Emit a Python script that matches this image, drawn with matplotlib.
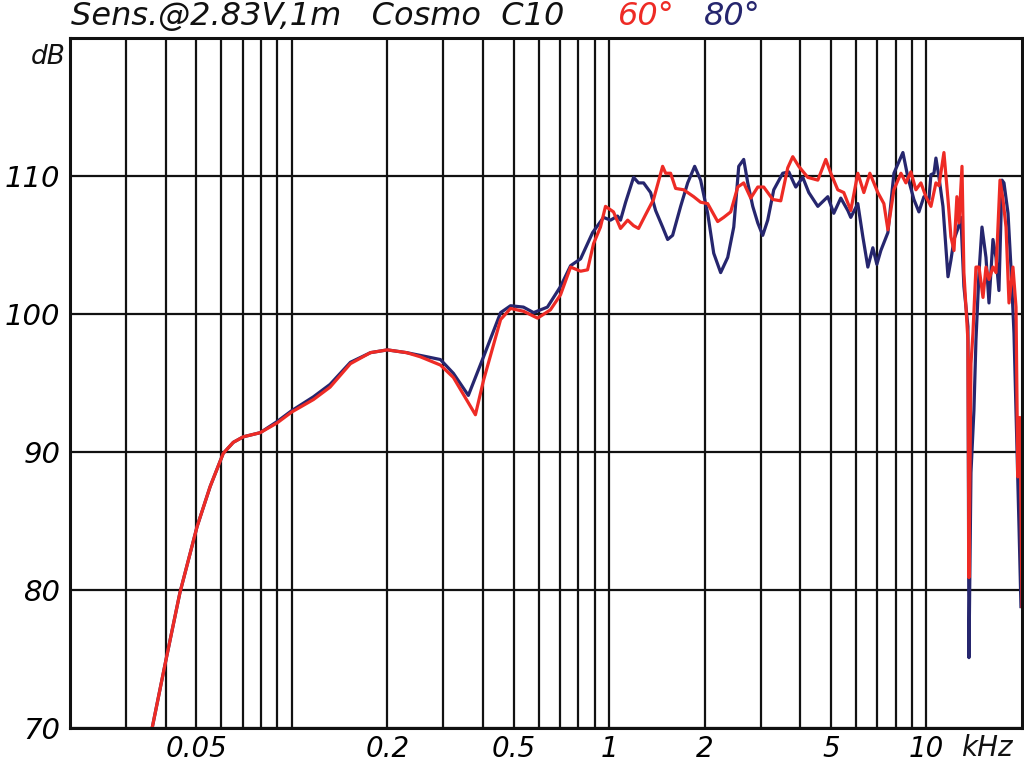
import matplotlib
matplotlib.use("Agg")
import matplotlib.pyplot as plt

# 60 degree curve (kHz, dB)
freq_60 = [0.0363, 0.0401, 0.0444, 0.0503, 0.0553, 0.0608, 0.0654, 0.0703, 0.0795, 0.0898,
           0.100, 0.117, 0.132, 0.153, 0.177, 0.200, 0.230, 0.254, 0.294, 0.323,
           0.379, 0.402, 0.455, 0.489, 0.537, 0.595, 0.653, 0.703, 0.756, 0.813,
           0.855, 0.893, 0.939, 0.974, 1.032, 1.086, 1.144, 1.194, 1.238, 1.303,
           1.380, 1.474, 1.507, 1.562, 1.620, 1.718, 1.847, 1.942, 2.044, 2.198,
           2.296, 2.416, 2.542, 2.655, 2.794, 2.940, 3.070, 3.278, 3.474, 3.655,
           3.790, 3.958, 4.227, 4.546, 4.817, 4.994, 5.254, 5.488, 5.774, 6.076,
           6.348, 6.631, 7.027, 7.341, 7.559, 7.896, 8.308, 8.613, 8.931, 9.262,
           9.604, 9.960, 10.33, 10.71, 10.95, 11.35, 11.69, 11.94, 12.21, 12.47,
           12.66, 12.94, 13.12, 13.51, 13.61, 13.81, 14.01, 14.32, 14.64, 15.07,
           15.40, 15.74, 16.20, 16.56, 17.05, 17.42, 17.81, 18.20, 18.73, 19.15,
           19.40, 19.70, 20.0]
db_60 = [70.0, 74.9, 79.8, 84.6, 87.5, 89.9, 90.7, 91.1, 91.4, 92.1,
         92.9, 93.8, 94.7, 96.4, 97.2, 97.4, 97.2, 96.9, 96.3, 95.4,
         92.7, 95.2, 99.6, 100.4, 100.2, 99.7, 100.3, 101.4, 103.4, 103.1,
         103.2, 105.1, 106.3, 107.8, 107.4, 106.2, 106.8, 106.4, 106.2, 107.2,
         108.3, 110.7, 110.2, 110.2, 109.1, 109.0, 108.5, 108.1, 108.0, 106.7,
         107.0, 107.4, 109.2, 109.5, 108.4, 109.2, 109.2, 108.3, 108.2, 110.6,
         111.4, 110.7, 109.9, 109.7, 111.2, 110.2, 109.0, 108.8, 107.5, 110.2,
         108.8, 110.2, 108.8, 108.0, 106.1, 109.0, 110.2, 109.5, 110.3, 109.0,
         109.5, 108.5, 107.8, 109.5, 109.3, 111.7, 108.3, 105.6, 104.6, 108.5,
         106.6, 110.7, 103.0, 98.1, 80.9, 96.4, 98.6, 103.4, 103.4, 101.2,
         103.4, 102.5, 103.4, 103.0, 109.7, 108.3, 106.3, 100.8, 103.4, 100.5,
         88.2, 92.5, 78.8]

# 80 degree curve (kHz, dB)
freq_80 = [0.0363, 0.0401, 0.0444, 0.0503, 0.0553, 0.0608, 0.0654, 0.0703, 0.0795, 0.0898,
           0.100, 0.117, 0.132, 0.153, 0.177, 0.200, 0.230, 0.254, 0.294, 0.323,
           0.360, 0.402, 0.455, 0.489, 0.537, 0.578, 0.639, 0.703, 0.756, 0.813,
           0.887, 0.960, 1.010, 1.063, 1.086, 1.127, 1.194, 1.238, 1.284, 1.351,
           1.401, 1.474, 1.529, 1.585, 1.680, 1.768, 1.860, 1.942, 2.044, 2.136,
           2.246, 2.364, 2.470, 2.561, 2.655, 2.734, 2.835, 2.940, 3.048, 3.160,
           3.302, 3.524, 3.682, 3.818, 3.874, 4.075, 4.258, 4.546, 4.887, 5.104,
           5.370, 5.650, 5.774, 6.076, 6.302, 6.535, 6.776, 6.976, 7.182, 7.559,
           7.896, 8.428, 8.739, 9.128, 9.466, 9.816, 10.18, 10.33, 10.56, 10.71,
           10.95, 11.27, 11.69, 11.94, 12.21, 12.57, 12.84, 13.12, 13.51, 13.61,
           13.81, 14.11, 14.32, 14.64, 14.96, 15.40, 15.74, 16.20, 16.56, 16.92,
           17.30, 17.55, 18.07, 18.46, 18.87, 19.57, 19.85]
db_80 = [70.0, 74.9, 79.8, 84.6, 87.5, 89.9, 90.7, 91.1, 91.4, 92.2,
         93.0, 94.0, 94.9, 96.5, 97.2, 97.4, 97.2, 97.0, 96.7, 95.7,
         94.1, 96.9, 100.1, 100.6, 100.5, 100.1, 100.5, 102.0, 103.5, 104.0,
         105.9, 107.0, 106.8, 107.1, 106.8, 108.1, 109.9, 109.5, 109.5, 108.8,
         107.5, 106.3, 105.4, 105.7, 107.8, 109.5, 110.7, 109.7, 107.3, 104.4,
         103.0, 104.1, 106.3, 110.7, 111.2, 109.5, 107.8, 106.6, 105.7, 106.8,
         109.0, 110.2, 110.3, 109.5, 109.2, 109.9, 108.8, 107.8, 108.5, 107.3,
         108.4, 107.5, 107.0, 108.0, 105.6, 103.4, 104.8, 103.6, 104.6, 105.9,
         110.2, 111.7, 109.9, 108.3, 107.4, 108.5, 108.3, 110.1, 110.2, 111.3,
         109.9, 107.8, 102.7, 103.9, 105.4, 106.2, 107.0, 102.0, 99.1, 75.1,
         88.5, 93.0, 98.1, 103.0, 106.3, 104.1, 100.8, 105.4, 104.1, 101.7,
         109.7, 109.5, 107.3, 103.4, 98.6, 84.6, 78.8]

grid_freqs = [0.03, 0.04, 0.05, 0.06, 0.07, 0.08, 0.09,
              0.1, 0.2, 0.3, 0.4, 0.5, 0.6, 0.7, 0.8, 0.9,
              1, 2, 3, 4, 5, 6, 7, 8, 9, 10]
label_freqs = [0.05, 0.2, 0.5, 1, 2, 5, 10]
label_texts = ["0.05", "0.2", "0.5", "1", "2", "5", "10"]
db_ticks = [70, 80, 90, 100, 110]

W, H = 1024, 763
fig = plt.figure(figsize=(W / 100, H / 100), dpi=100)
ax = fig.add_axes([70 / W, 1 - 728 / H, 952 / W, 690 / H])

ax.plot(freq_80, db_80, color="#26266e", lw=2.3, solid_joinstyle="round")
ax.plot(freq_60, db_60, color="#ee2b25", lw=2.3, solid_joinstyle="round")

ax.set_xscale("log")
ax.set_xlim(0.02, 20)
ax.set_ylim(70, 120)

ax.set_xticks(grid_freqs, minor=True)
ax.set_xticks(label_freqs, label_texts)
ax.xaxis.set_minor_formatter(matplotlib.ticker.NullFormatter())
ax.set_yticks(db_ticks)
ax.grid(True, which="both", color="#111111", lw=1.6)
ax.tick_params(which="both", length=0)
ax.tick_params(axis="x", pad=5, labelsize=20)
ax.tick_params(axis="y", pad=7, labelsize=21)
for lab in ax.get_xticklabels() + ax.get_yticklabels():
    lab.set_fontstyle("italic")
for s in ax.spines.values():
    s.set_linewidth(2.2)
    s.set_color("#111111")

def px(x, y):
    return x / W, 1 - y / H

fig.text(*px(71, 25), "Sens.@2.83V,1m   Cosmo  C10", fontsize=23, style="italic",
         color="#111111", va="baseline", ha="left")
fig.text(*px(618, 25), "60°", fontsize=23, style="italic", color="#ee2b25",
         va="baseline", ha="left")
fig.text(*px(704, 25), "80°", fontsize=23, style="italic", color="#26266e",
         va="baseline", ha="left")
fig.text(*px(66, 57), "dB", fontsize=19, style="italic", color="#111111",
         va="center", ha="right")
fig.text(*px(961, 756), "kHz", fontsize=20, style="italic", color="#111111",
         va="baseline", ha="left")

fig.savefig("out.png", dpi=100)
